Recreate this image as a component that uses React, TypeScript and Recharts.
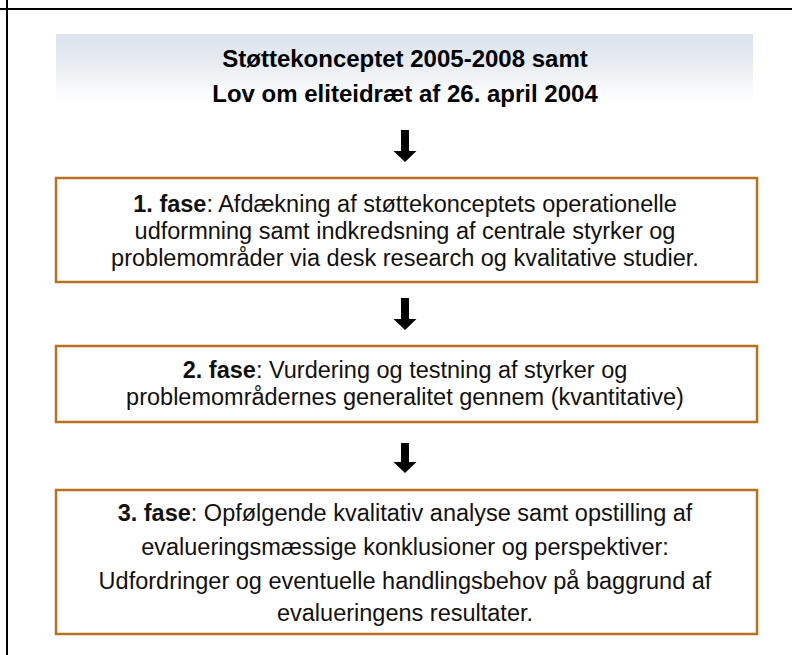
import React from "react";
import { ComposedChart, ReferenceArea, ReferenceLine, Scatter, XAxis, YAxis } from "recharts";

const headerLines = ["Støttekonceptet 2005-2008 samt", "Lov om eliteidræt af 26. april 2004"];
const headerBaselines = [67, 102];

const phaseLabels = ["1. fase", "2. fase", "3. fase"];
const phaseLines = [
  [
    ": Afdækning af støttekonceptets operationelle",
    "udformning samt indkredsning af centrale styrker og",
    "problemområder via desk research og kvalitative studier.",
  ],
  [": Vurdering og testning af styrker og", "problemområdernes generalitet gennem (kvantitative)"],
  [
    ": Opfølgende kvalitativ analyse samt opstilling af",
    "evalueringsmæssige konklusioner og perspektiver:",
    "Udfordringer og eventuelle handlingsbehov på baggrund af",
    "evalueringens resultater.",
  ],
];
const phaseBaselines = [
  [212, 239, 266],
  [378, 405],
  [521, 555, 589, 621],
];
const boxTop = [178, 346, 490];
const boxBottom = [282, 422, 634];
const arrowTop = [130, 298, 443];
const arrowBottom = [162, 330, 473];

const W = 792;
const H = 655;
const CX = 405;
const FONT = '"Liberation Sans", Arial, sans-serif';
const BORDER = "#b5731f";

type TextRow = { x: number; y: number; text: string; bold?: string; header?: boolean };

const textRows: TextRow[] = [
  ...headerLines.map((t, i) => ({ x: CX, y: headerBaselines[i], text: t, header: true })),
  ...phaseLines.flatMap((lines, p) =>
    lines.map((t, i) => ({
      x: CX,
      y: phaseBaselines[p][i],
      text: t,
      bold: i === 0 ? phaseLabels[p] : undefined,
    }))
  ),
];

const arrowRows = arrowTop.map((t, i) => ({ x: CX, y: t, yEnd: arrowBottom[i] }));

function TextShape(props: any) {
  const { cx, cy, payload } = props;
  if (payload.header) {
    return (
      <text x={cx} y={cy} textAnchor="middle" fontFamily={FONT} fontSize={24} fontWeight="bold" fill="#000">
        {payload.text}
      </text>
    );
  }
  return (
    <text x={cx} y={cy} textAnchor="middle" fontFamily={FONT} fontSize={23.5} fill="#111">
      {payload.bold && <tspan fontWeight="bold">{payload.bold}</tspan>}
      <tspan>{payload.text}</tspan>
    </text>
  );
}

function ArrowShape(props: any) {
  const { cx, cy, payload } = props;
  // domain equals pixel size, so data length maps 1:1
  const len = payload.yEnd - payload.y;
  const shaft = 4;
  const head = 11.5;
  const headH = 11;
  const d = [
    `M${cx - shaft},${cy}`,
    `L${cx + shaft},${cy}`,
    `L${cx + shaft},${cy + len - headH}`,
    `L${cx + head},${cy + len - headH}`,
    `L${cx},${cy + len}`,
    `L${cx - head},${cy + len - headH}`,
    `L${cx - shaft},${cy + len - headH}`,
    "Z",
  ].join(" ");
  return <path d={d} fill="#000" />;
}

export default function App() {
  return (
    <div style={{ position: "absolute", left: 0, top: 0, width: W, height: H, background: "#fff" }}>
      <ComposedChart width={W} height={H} margin={{ top: 0, right: 0, bottom: 0, left: 0 }}>
        <defs>
          <linearGradient id="hdrGrad" x1="0" y1="0" x2="0" y2="1">
            <stop offset="0%" stopColor="#dce3ec" />
            <stop offset="35%" stopColor="#e6ebf1" />
            <stop offset="85%" stopColor="#ffffff" />
          </linearGradient>
        </defs>
        <XAxis type="number" dataKey="x" domain={[0, W]} hide allowDataOverflow />
        <YAxis type="number" dataKey="y" domain={[0, H]} reversed hide allowDataOverflow />
        <ReferenceArea x1={56} x2={753} y1={34} y2={112} fill="url(#hdrGrad)" fillOpacity={1} stroke="none" />
        {boxTop.map((t, i) => (
          <ReferenceArea
            key={i}
            x1={56}
            x2={757}
            y1={t}
            y2={boxBottom[i]}
            fill="#fff"
            fillOpacity={1}
            stroke={BORDER}
            strokeWidth={2.5}
          />
        ))}
        <ReferenceLine x={7} stroke="#000" strokeWidth={2} />
        <ReferenceLine y={9} stroke="#000" strokeWidth={2} />
        <Scatter data={arrowRows} shape={<ArrowShape />} isAnimationActive={false} />
        <Scatter data={textRows} shape={<TextShape />} isAnimationActive={false} />
      </ComposedChart>
    </div>
  );
}
